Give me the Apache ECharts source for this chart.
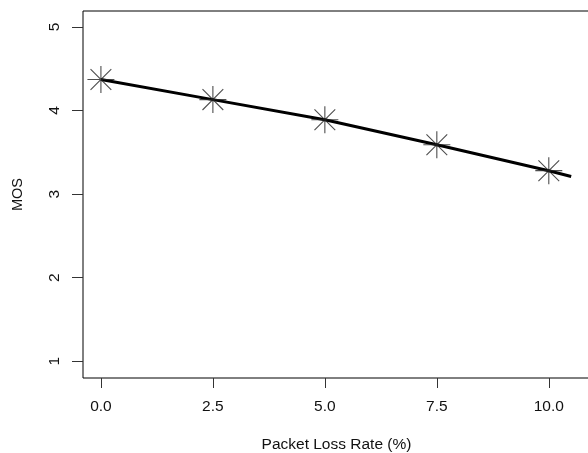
<!DOCTYPE html>
<html>
<head>
<meta charset="utf-8">
<script src="https://cdn.jsdelivr.net/npm/echarts@6/dist/echarts.min.js"></script>
<style>
  html, body { margin: 0; padding: 0; background: #fff; }
  #chart { width: 588px; height: 453px; }
</style>
</head>
<body>
<div id="chart"></div>
<script>
// measured points (loss rate %, MOS)
var lossRate = [0, 2.5, 5, 7.5, 10];
var mos = [4.37, 4.13, 3.89, 3.59, 3.28];
// fitted curve as drawn
var curveX = [0, 2.5, 5, 7.5, 10, 10.5];
var curveY = [4.37, 4.13, 3.89, 3.59, 3.28, 3.21];
var xTicks = [0, 2.5, 5, 7.5, 10];
var yTicks = [1, 2, 3, 4, 5];

var chart = echarts.init(document.getElementById('chart'));

var txt = { fontFamily: 'Liberation Sans', color: '#111' };

var option = {
    backgroundColor: '#fff',
    animation: false,
    grid: {
        left: 83, top: 11, right: -2, bottom: 75,
        outerBoundsMode: 'none',
        containLabel: false,
        show: true,
        borderColor: '#000',
        borderWidth: 1
    },
    xAxis: {
        type: 'value',
        min: -0.4,
        max: 10.92,
        name: 'Packet Loss Rate (%)',
        nameLocation: 'middle',
        nameGap: 59,
        nameTextStyle: Object.assign({ fontSize: 15.5 }, txt),
        axisLine: { show: false, onZero: false },
        splitLine: { show: false },
        axisTick: {
            show: true, length: 10, customValues: xTicks,
            lineStyle: { color: '#333', width: 1 }
        },
        axisLabel: {
            customValues: xTicks, margin: 21, fontSize: 15.5,
            fontFamily: txt.fontFamily, color: txt.color,
            formatter: function (v) { return v.toFixed(1); }
        }
    },
    yAxis: {
        type: 'value',
        min: 0.8,
        max: 5.19,
        name: 'MOS',
        nameLocation: 'middle',
        nameGap: 58,
        nameRotate: 90,
        nameTextStyle: Object.assign({ fontSize: 14.5 }, txt),
        axisLine: { show: false, onZero: false },
        splitLine: { show: false },
        axisTick: {
            show: true, length: 11, customValues: yTicks,
            lineStyle: { color: '#333', width: 1 }
        },
        axisLabel: {
            customValues: yTicks, margin: 20, fontSize: 15.5, rotate: 90,
            fontFamily: txt.fontFamily, color: txt.color
        }
    },
    series: [
        {
            type: 'line',
            data: curveX.map(function (x, i) { return [x, curveY[i]]; }),
            showSymbol: false,
            lineStyle: { color: '#000', width: 3 },
            z: 3
        },
        {
            type: 'scatter',
            data: lossRate.map(function (x, i) { return [x, mos[i]]; }),
            symbol: 'path://M13 0L13 26M0 13L26 13M3 3L23 23M3 23L23 3',
            symbolSize: 27,
            itemStyle: { color: 'none', borderColor: '#222', borderWidth: 1.1 },
            z: 4
        }
    ]
};

chart.setOption(option);
</script>
</body>
</html>
